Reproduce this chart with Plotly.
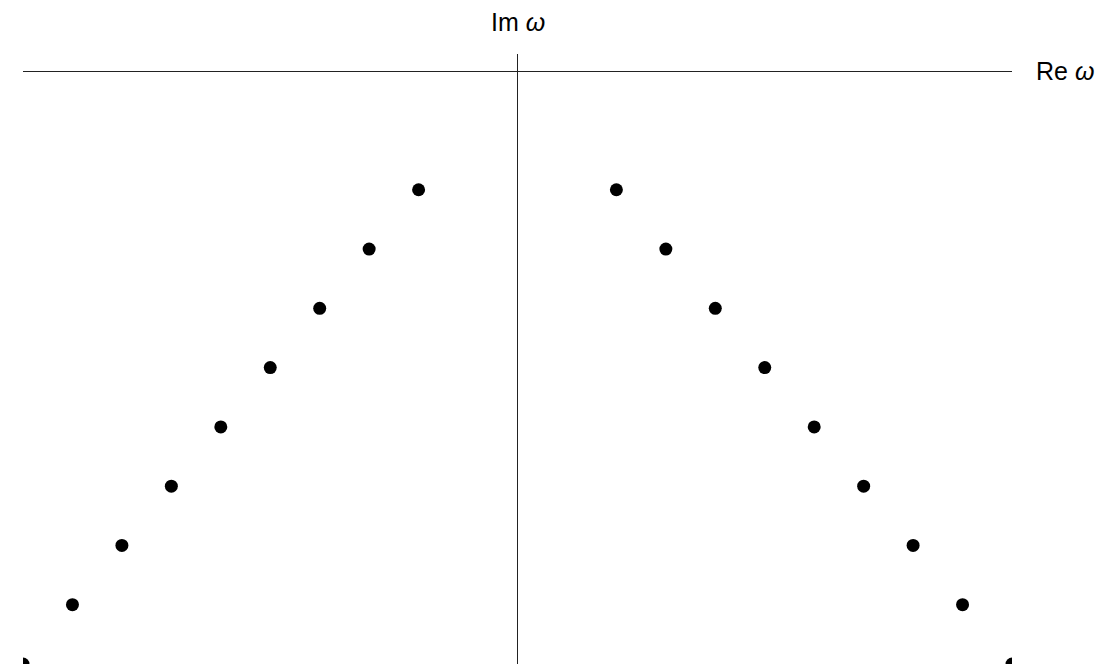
import plotly.graph_objects as go

# Quasinormal-mode style pole positions (Re ω, Im ω) in arbitrary units
n_values = [2, 3, 4, 5, 6, 7, 8, 9, 10]
re_right = [2, 3, 4, 5, 6, 7, 8, 9, 10]
re_left = [-2, -3, -4, -5, -6, -7, -8, -9, -10]
im_values = [-2, -3, -4, -5, -6, -7, -8, -9, -10]

x_range = [-10, 10]
y_range = [-10, 0.29]

fig = go.Figure()
fig.add_trace(go.Scatter(x=re_left, y=im_values, mode="markers",
                         marker=dict(color="black", size=13), cliponaxis=True,
                         hoverinfo="skip"))
fig.add_trace(go.Scatter(x=re_right, y=im_values, mode="markers",
                         marker=dict(color="black", size=13), cliponaxis=True,
                         hoverinfo="skip"))

axis_common = dict(showgrid=False, showticklabels=False, ticks="", showline=False,
                   zeroline=True, zerolinecolor="#222222", zerolinewidth=1.3)

fig.update_layout(
    width=1116, height=664,
    margin=dict(l=23, r=104, t=54, b=0),
    paper_bgcolor="white", plot_bgcolor="white",
    showlegend=False,
    font=dict(family="Liberation Sans, Arial, sans-serif", size=25, color="black"),
    xaxis=dict(range=x_range, **axis_common),
    yaxis=dict(range=y_range, **axis_common),
    annotations=[
        dict(text="Im <i>ω</i>", x=0, xref="x", y=1, yref="paper",
             xanchor="center", yanchor="bottom", yshift=16, showarrow=False,
             font=dict(size=25)),
        dict(text="Re <i>ω</i>", x=1, xref="paper", y=0, yref="y",
             xanchor="left", yanchor="middle", xshift=22, showarrow=False,
             font=dict(size=25)),
    ],
)

fig.write_html("out.html")
